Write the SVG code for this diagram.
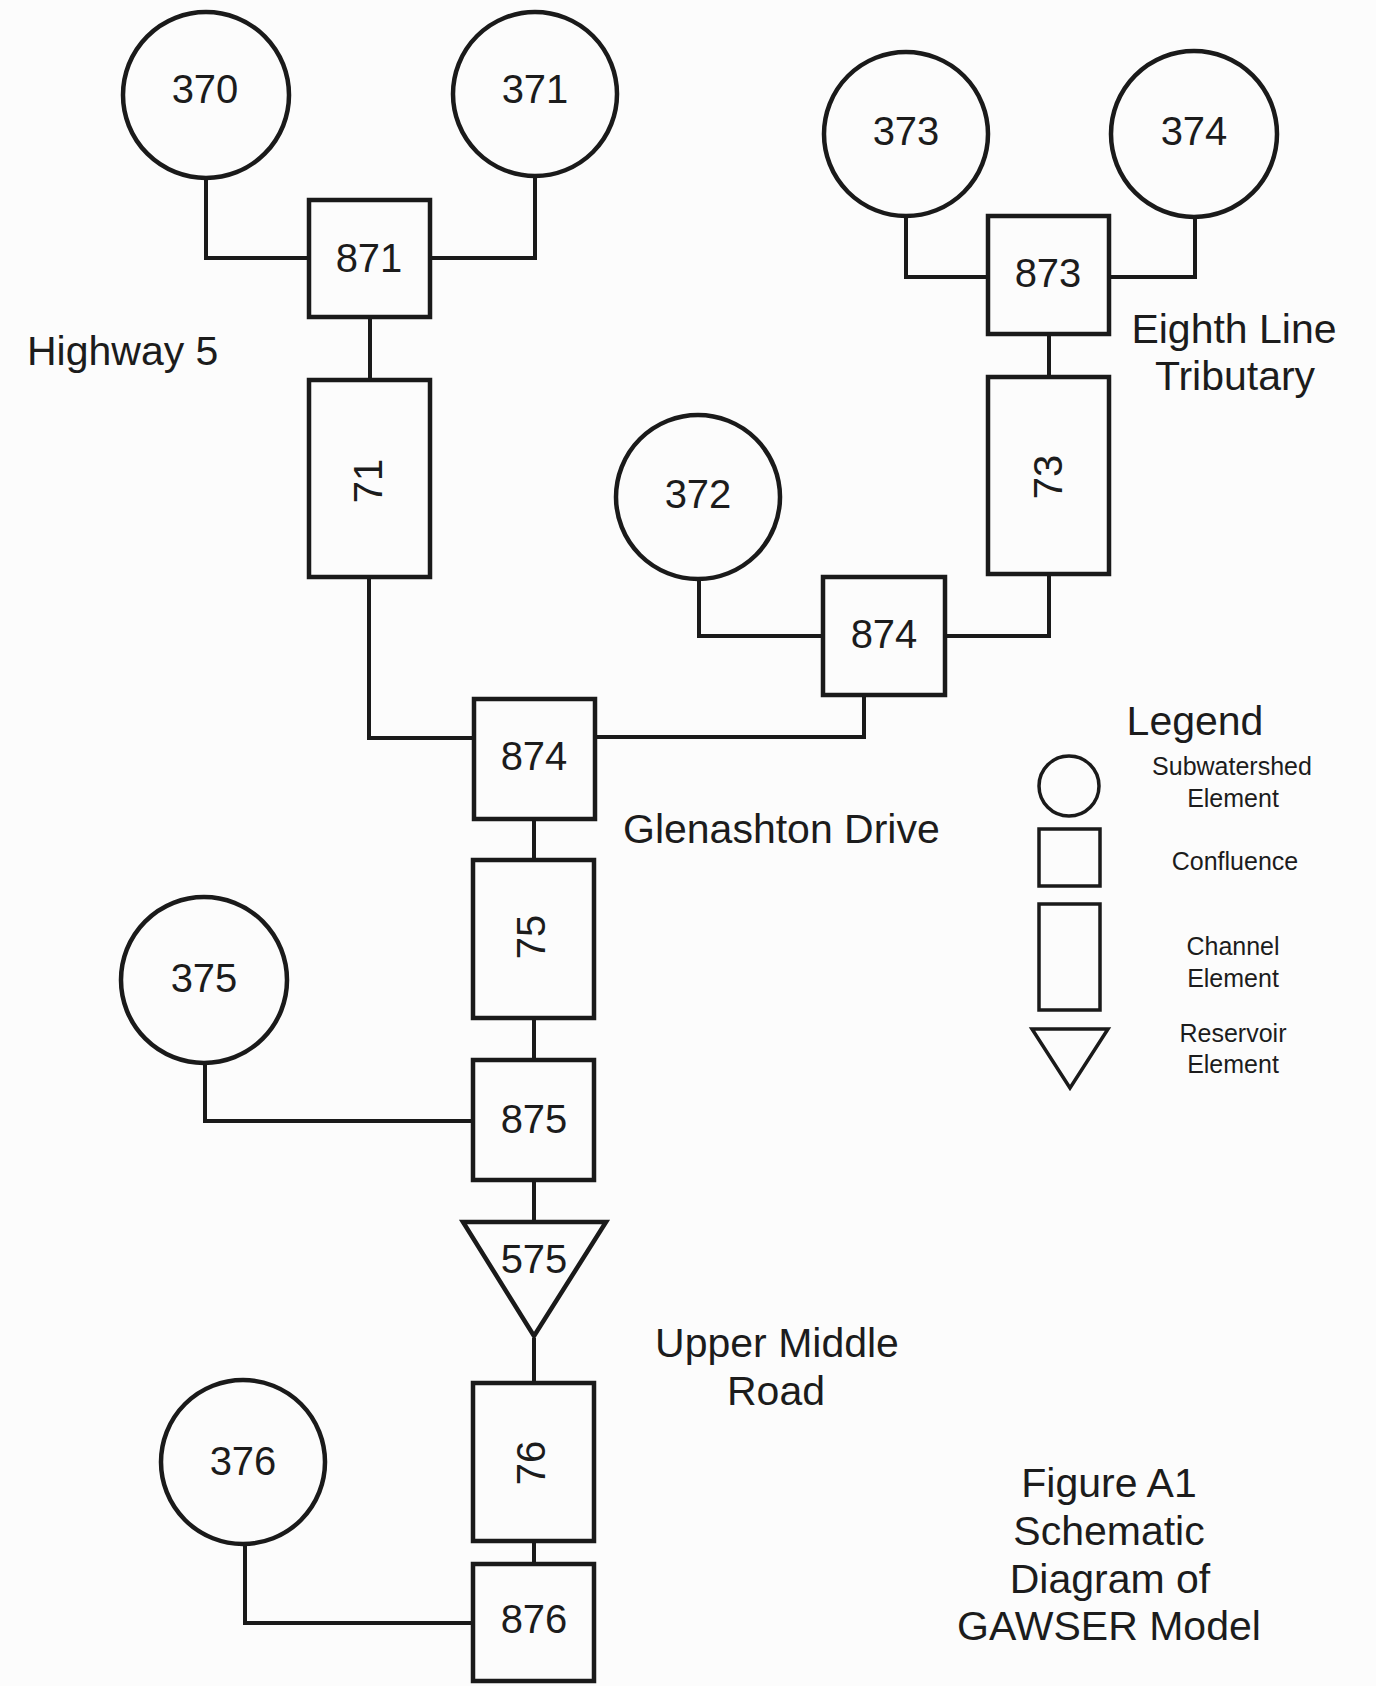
<svg xmlns="http://www.w3.org/2000/svg" width="1376" height="1686" viewBox="0 0 1376 1686">
<style>
.n{fill:none;stroke:#1a1a1a;stroke-width:4.5}
.c{fill:none;stroke:#1a1a1a;stroke-width:4;stroke-linejoin:miter}
.l{fill:none;stroke:#1a1a1a;stroke-width:3.5}
text{font-family:"Liberation Sans",Arial,sans-serif;fill:#1c1c1c}
.t{font-size:40px;text-anchor:middle}
.r{font-size:40px;text-anchor:middle;dominant-baseline:central}
.lab{font-size:41px}
.m{font-size:41px;text-anchor:middle}
.s{font-size:25px;text-anchor:middle}
</style>
<rect width="1376" height="1686" fill="#fcfcfc"/>
<g id="connectors">
<path class="c" d="M206,178 V258 H309"/>
<path class="c" d="M535,176 V258 H430"/>
<path class="c" d="M370,319 V378"/>
<path class="c" d="M906,216 V277 H988"/>
<path class="c" d="M1195,217 V277 H1109"/>
<path class="c" d="M1049,336 V375"/>
<path class="c" d="M1049,576 V636 H945"/>
<path class="c" d="M699,579 V636 H823"/>
<path class="c" d="M369,579 V738 H474"/>
<path class="c" d="M595,737 H864 V697"/>
<path class="c" d="M534,821 V858"/>
<path class="c" d="M534,1020 V1058"/>
<path class="c" d="M205,1063 V1121 H473"/>
<path class="c" d="M534,1182 V1220"/>
<path class="c" d="M534,1338 V1381"/>
<path class="c" d="M534,1543 V1562"/>
<path class="c" d="M245,1544 V1623 H473"/>
</g>
<g id="n370"><circle class="n" cx="206" cy="95" r="83"/><text class="t" x="205" y="103">370</text></g>
<g id="n371"><circle class="n" cx="535" cy="94" r="82"/><text class="t" x="535" y="103">371</text></g>
<g id="n871"><rect class="n" x="309" y="200" width="121" height="117"/><text class="t" x="369" y="272">871</text></g>
<g id="n71"><rect class="n" x="309" y="380" width="121" height="197"/><text class="r" transform="translate(368,481) rotate(-90)">71</text></g>
<g id="n373"><circle class="n" cx="906" cy="134" r="82"/><text class="t" x="906" y="145">373</text></g>
<g id="n374"><circle class="n" cx="1194" cy="134" r="83"/><text class="t" x="1194" y="145">374</text></g>
<g id="n873"><rect class="n" x="988" y="216" width="121" height="118"/><text class="t" x="1048" y="287">873</text></g>
<g id="n73"><rect class="n" x="988" y="377" width="121" height="197"/><text class="r" transform="translate(1048,477) rotate(-90)">73</text></g>
<g id="n372"><circle class="n" cx="698" cy="497" r="82"/><text class="t" x="698" y="508">372</text></g>
<g id="n874a"><rect class="n" x="823" y="577" width="122" height="118"/><text class="t" x="884" y="648">874</text></g>
<g id="n874b"><rect class="n" x="474" y="699" width="121" height="120"/><text class="t" x="534" y="770">874</text></g>
<g id="n75"><rect class="n" x="473" y="860" width="121" height="158"/><text class="r" transform="translate(531,937) rotate(-90)">75</text></g>
<g id="n375"><circle class="n" cx="204" cy="980" r="83"/><text class="t" x="204" y="992">375</text></g>
<g id="n875"><rect class="n" x="473" y="1060" width="121" height="120"/><text class="t" x="534" y="1133">875</text></g>
<g id="n575"><polygon class="n" points="463,1222 606,1222 534,1336"/><text class="t" x="534" y="1273">575</text></g>
<g id="n76"><rect class="n" x="473" y="1383" width="121" height="158"/><text class="r" transform="translate(531,1463) rotate(-90)">76</text></g>
<g id="n376"><circle class="n" cx="243" cy="1462" r="82"/><text class="t" x="243" y="1475">376</text></g>
<g id="n876"><rect class="n" x="473" y="1564" width="121" height="117"/><text class="t" x="534" y="1633">876</text></g>
<g id="labels">
<text class="lab" x="27" y="365">Highway 5</text>
<text class="m" x="1234" y="343">Eighth Line</text>
<text class="m" x="1235" y="390">Tributary</text>
<text class="lab" x="623" y="843">Glenashton Drive</text>
<text class="m" x="777" y="1357">Upper Middle</text>
<text class="m" x="776" y="1405">Road</text>
<text class="m" x="1109" y="1497">Figure A1</text>
<text class="m" x="1109" y="1545">Schematic</text>
<text class="m" x="1110" y="1593">Diagram of</text>
<text class="m" x="1109" y="1640">GAWSER Model</text>
</g>
<g id="legend">
<text class="m" x="1195" y="735">Legend</text>
<circle class="l" cx="1069" cy="786" r="30"/>
<rect class="l" x="1039" y="829" width="61" height="57"/>
<rect class="l" x="1039" y="904" width="61" height="106"/>
<polygon class="l" points="1032,1029 1108,1029 1070,1088"/>
<text class="s" x="1232" y="775">Subwatershed</text>
<text class="s" x="1233" y="807">Element</text>
<text class="s" x="1235" y="870">Confluence</text>
<text class="s" x="1233" y="955">Channel</text>
<text class="s" x="1233" y="987">Element</text>
<text class="s" x="1233" y="1042">Reservoir</text>
<text class="s" x="1233" y="1073">Element</text>
</g>
</svg>
